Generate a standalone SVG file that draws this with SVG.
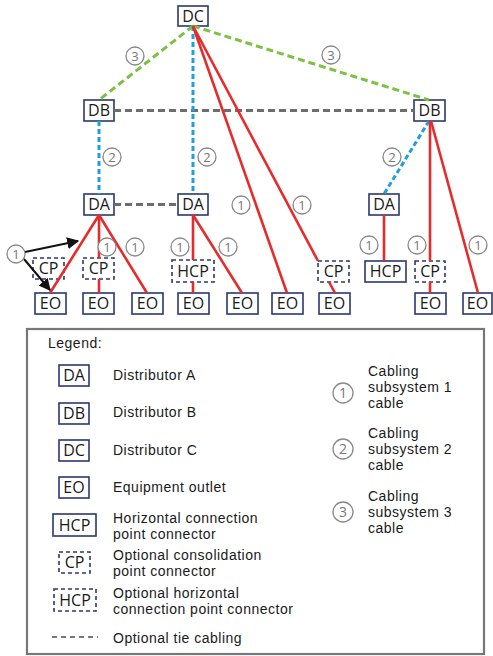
<svg xmlns="http://www.w3.org/2000/svg" width="493" height="656" viewBox="0 0 493 656">
<defs>
<style>
.box{fill:#fff;stroke:#2b3770;stroke-width:1.6}
.dbox{fill:#fff;stroke:#2b3770;stroke-width:1.6;stroke-dasharray:4 3}
.nt{font-family:"Open Sans","Liberation Sans",sans-serif;font-size:16px;fill:#1a1a1a;text-anchor:middle}
.lt{font-family:"Liberation Sans",Arial,sans-serif;font-size:14px;letter-spacing:0.5px;fill:#1a1a1a}
.num{font-family:"Open Sans","Liberation Sans",sans-serif;font-size:13px;fill:#777;text-anchor:middle}
.ring{fill:#fff;stroke:#888;stroke-width:1.3}
.red{stroke:#e52b2b;stroke-width:2.6;fill:none}
.green{stroke:#7cc242;stroke-width:3;stroke-dasharray:7 4;fill:none}
.blue{stroke:#1ea0dc;stroke-width:3;stroke-dasharray:5 3;fill:none}
.gray{stroke:#6d6d6d;stroke-width:3;stroke-dasharray:7 4;fill:none}
.arr{stroke:#111;stroke-width:2;fill:none;marker-end:url(#ah)}
</style>
<marker id="ah" viewBox="0 0 10 10" refX="9" refY="5" markerWidth="6" markerHeight="6" orient="auto" markerUnits="strokeWidth">
<path d="M0,0 L10,5 L0,10 z" fill="#111"/>
</marker>
</defs>
<rect width="493" height="656" fill="#fff"/>

<g id="nodes">
<g id="DC"><rect class="box" x="178" y="6" width="30" height="20"/><text class="nt" x="193" y="21.5">DC</text></g>
<g id="DB1"><rect class="box" x="84" y="100" width="30" height="21"/><text class="nt" x="99" y="116">DB</text></g>
<g id="DB2"><rect class="box" x="414" y="100" width="31" height="21"/><text class="nt" x="429.5" y="116">DB</text></g>
<g id="DA1"><rect class="box" x="84" y="194" width="30" height="21"/><text class="nt" x="99" y="210">DA</text></g>
<g id="DA2"><rect class="box" x="178" y="194" width="30" height="21"/><text class="nt" x="193" y="210">DA</text></g>
<g id="DA3"><rect class="box" x="369" y="194" width="30" height="21"/><text class="nt" x="384" y="210">DA</text></g>
<g id="CP1"><rect class="dbox" x="33" y="258" width="31" height="21"/><text class="nt" x="48.5" y="274">CP</text></g>
<g id="CP2"><rect class="dbox" x="83" y="258" width="31" height="21"/><text class="nt" x="98.5" y="274">CP</text></g>
<g id="HCP1"><rect class="dbox" x="172" y="260" width="42" height="22"/><text class="nt" x="193" y="276.5">HCP</text></g>
<g id="CP3"><rect class="dbox" x="318" y="261" width="31" height="21"/><text class="nt" x="333.5" y="277">CP</text></g>
<g id="HCP2"><rect class="box" x="365" y="261" width="41" height="21"/><text class="nt" x="385.5" y="277">HCP</text></g>
<g id="CP4"><rect class="dbox" x="415" y="261" width="30" height="21"/><text class="nt" x="430" y="277">CP</text></g>
<g id="EO1"><rect class="box" x="35" y="293" width="31" height="21"/><text class="nt" x="50.5" y="309">EO</text></g>
<g id="EO2"><rect class="box" x="83" y="293" width="31" height="21"/><text class="nt" x="98.5" y="309">EO</text></g>
<g id="EO3"><rect class="box" x="132" y="293" width="31" height="21"/><text class="nt" x="147.5" y="309">EO</text></g>
<g id="EO4"><rect class="box" x="178" y="293" width="31" height="21"/><text class="nt" x="193.5" y="309">EO</text></g>
<g id="EO5"><rect class="box" x="227" y="293" width="31" height="21"/><text class="nt" x="242.5" y="309">EO</text></g>
<g id="EO6"><rect class="box" x="272" y="293" width="31" height="21"/><text class="nt" x="287.5" y="309">EO</text></g>
<g id="EO7"><rect class="box" x="319" y="293" width="31" height="21"/><text class="nt" x="334.5" y="309">EO</text></g>
<g id="EO8"><rect class="box" x="415" y="293" width="31" height="21"/><text class="nt" x="430.5" y="309">EO</text></g>
<g id="EO9"><rect class="box" x="463" y="293" width="29" height="21"/><text class="nt" x="477.5" y="309">EO</text></g>
</g>

<g id="connectors">
<line class="green" x1="193" y1="26" x2="99" y2="100"/>
<line class="green" x1="193" y1="26" x2="429" y2="100"/>
<line class="gray" x1="114" y1="110.5" x2="414" y2="110.5"/>
<line class="gray" x1="114" y1="204.5" x2="178" y2="204.5"/>
<line class="blue" x1="193" y1="26" x2="193" y2="194"/>
<line class="blue" x1="99" y1="121" x2="99" y2="194"/>
<line class="blue" x1="429" y1="121" x2="384" y2="194"/>
<line class="red" x1="193" y1="26" x2="287" y2="293"/>
<line class="red" x1="193" y1="26" x2="318" y2="261"/>
<line class="red" x1="329" y1="282" x2="335" y2="293"/>
<line class="red" x1="99" y1="215" x2="50" y2="293"/>
<line class="red" x1="99" y1="215" x2="99" y2="258"/>
<line class="red" x1="99" y1="279" x2="99" y2="293"/>
<line class="red" x1="99" y1="215" x2="147" y2="293"/>
<line class="red" x1="193" y1="215" x2="193" y2="260"/>
<line class="red" x1="193" y1="282" x2="193" y2="293"/>
<line class="red" x1="193" y1="215" x2="242" y2="293"/>
<line class="red" x1="384" y1="215" x2="384" y2="261"/>
<line class="red" x1="430" y1="121" x2="430" y2="261"/>
<line class="red" x1="430" y1="282" x2="430" y2="293"/>
<line class="red" x1="431" y1="121" x2="478" y2="293"/>
<line class="arr" x1="25" y1="252" x2="78" y2="241"/>
<line class="arr" x1="24" y1="259" x2="50" y2="290"/>
</g>

<g id="labels">
<circle class="ring" cx="135" cy="56" r="9"/><text class="num" x="135" y="60.5">3</text>
<circle class="ring" cx="331" cy="55" r="9"/><text class="num" x="331" y="59.5">3</text>
<circle class="ring" cx="112" cy="157" r="9"/><text class="num" x="112" y="161.5">2</text>
<circle class="ring" cx="207" cy="157" r="9"/><text class="num" x="207" y="161.5">2</text>
<circle class="ring" cx="392" cy="157" r="9"/><text class="num" x="392" y="161.5">2</text>
<circle class="ring" cx="241" cy="205" r="9"/><text class="num" x="241" y="209.5">1</text>
<circle class="ring" cx="302" cy="205" r="9"/><text class="num" x="302" y="209.5">1</text>
<circle class="ring" cx="16" cy="254" r="9"/><text class="num" x="16" y="258.5">1</text>
<circle class="ring" cx="107" cy="247" r="9"/><text class="num" x="107" y="251.5">1</text>
<circle class="ring" cx="135" cy="247" r="9"/><text class="num" x="135" y="251.5">1</text>
<circle class="ring" cx="180" cy="247" r="9"/><text class="num" x="180" y="251.5">1</text>
<circle class="ring" cx="228" cy="247" r="9"/><text class="num" x="228" y="251.5">1</text>
<circle class="ring" cx="369" cy="245" r="9"/><text class="num" x="369" y="249.5">1</text>
<circle class="ring" cx="417" cy="245" r="9"/><text class="num" x="417" y="249.5">1</text>
<circle class="ring" cx="478" cy="245" r="9"/><text class="num" x="478" y="249.5">1</text>
</g>

<g id="legend">
<rect x="27" y="329" width="457" height="325" fill="none" stroke="#777" stroke-width="2.2"/>
<text class="lt" x="48" y="348">Legend:</text>
<rect class="box" x="59" y="365" width="30" height="21"/><text class="nt" x="74" y="381">DA</text>
<text class="lt" x="113" y="380">Distributor A</text>
<rect class="box" x="59" y="403" width="30" height="21"/><text class="nt" x="74" y="419">DB</text>
<text class="lt" x="113" y="417">Distributor B</text>
<rect class="box" x="59" y="440" width="30" height="21"/><text class="nt" x="74" y="456">DC</text>
<text class="lt" x="113" y="455">Distributor C</text>
<rect class="box" x="59" y="477" width="30" height="21"/><text class="nt" x="74" y="493">EO</text>
<text class="lt" x="113" y="492">Equipment outlet</text>
<rect class="box" x="53" y="514" width="43" height="22"/><text class="nt" x="74.5" y="530.5">HCP</text>
<text class="lt" x="113" y="523">Horizontal connection</text>
<text class="lt" x="113" y="539">point connector</text>
<rect class="dbox" x="59" y="552" width="31" height="21"/><text class="nt" x="74.5" y="568">CP</text>
<text class="lt" x="113" y="560">Optional consolidation</text>
<text class="lt" x="113" y="576">point connector</text>
<rect class="dbox" x="54" y="589" width="42" height="22"/><text class="nt" x="75" y="605.5">HCP</text>
<text class="lt" x="113" y="598">Optional horizontal</text>
<text class="lt" x="113" y="614">connection point connector</text>
<line x1="52" y1="637" x2="98" y2="637" stroke="#777" stroke-width="2" stroke-dasharray="5 4"/>
<text class="lt" x="113" y="643">Optional tie cabling</text>
<circle cx="343" cy="393" r="10" fill="none" stroke="#888" stroke-width="1.3"/><text class="num" x="343" y="398" style="font-size:14px">1</text>
<text class="lt" x="368" y="376">Cabling</text>
<text class="lt" x="368" y="392">subsystem 1</text>
<text class="lt" x="368" y="408">cable</text>
<circle cx="343" cy="449" r="10" fill="none" stroke="#888" stroke-width="1.3"/><text class="num" x="343" y="454" style="font-size:14px">2</text>
<text class="lt" x="368" y="438">Cabling</text>
<text class="lt" x="368" y="454">subsystem 2</text>
<text class="lt" x="368" y="470">cable</text>
<circle cx="343" cy="512" r="10" fill="none" stroke="#888" stroke-width="1.3"/><text class="num" x="343" y="517" style="font-size:14px">3</text>
<text class="lt" x="368" y="501">Cabling</text>
<text class="lt" x="368" y="517">subsystem 3</text>
<text class="lt" x="368" y="533">cable</text>
</g>
</svg>
